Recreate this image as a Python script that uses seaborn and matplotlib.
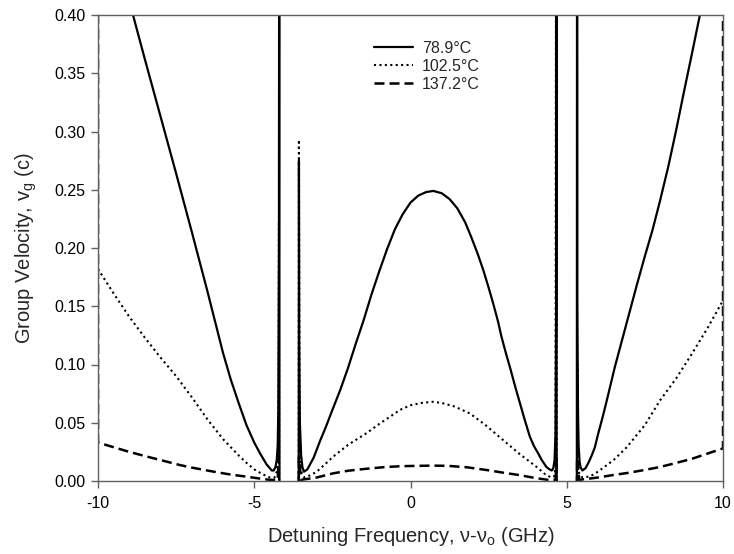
import matplotlib
matplotlib.use("Agg")
import matplotlib.pyplot as plt
import seaborn as sns
from matplotlib.ticker import FixedLocator, StrMethodFormatter

# ---- data ----
x_789 = [-10, -9.5, -9.0, -8.5, -8.0, -7.5, -7.0, -6.5, -6.0, -5.75, -5.5, -5.25, -5.0, -4.8,
         -4.6, -4.5, -4.44, -4.38, -4.32, -4.28, -4.25, -4.23, -4.21, -4.20, -4.19, -4.15, -3.9,
         -3.62, -3.58, -3.57, -3.56, -3.54, -3.50, -3.46, -3.41, -3.3, -3.1, -2.9, -2.7, -2.5,
         -2.25, -2.0, -1.75, -1.5, -1.25, -1.0, -0.75, -0.5, -0.25, 0.0, 0.25, 0.5, 0.73, 1.0,
         1.25, 1.5, 1.75, 1.95, 2.15, 2.33, 2.5, 2.65, 2.8, 2.91, 3.05, 3.21, 3.35, 3.5, 3.65,
         3.82, 3.95, 4.08, 4.2, 4.35, 4.45, 4.52, 4.57, 4.61, 4.64, 4.66, 4.67, 4.68, 4.72, 5.0,
         5.30, 5.32, 5.33, 5.34, 5.36, 5.38, 5.41, 5.44, 5.5, 5.6, 5.7, 5.8, 5.9, 6.0, 6.15,
         6.28, 6.54, 6.8, 7.0, 7.25, 7.5, 7.75, 7.98, 8.25, 8.5, 8.75, 9.0, 9.26, 9.5, 10]
y_789 = [0.52, 0.46, 0.412, 0.362, 0.313, 0.264, 0.214, 0.163, 0.110, 0.087, 0.067, 0.048, 0.033, 0.023,
         0.014, 0.011, 0.009, 0.009, 0.012, 0.018, 0.030, 0.060, 0.200, 0.60, -0.30, -0.05, -0.03,
         -0.05, -0.10, 0.275, 0.120, 0.050, 0.022, 0.012, 0.008, 0.010, 0.020, 0.034, 0.047, 0.061,
         0.078, 0.097, 0.118, 0.138, 0.160, 0.180, 0.199, 0.216, 0.229, 0.239, 0.245, 0.248, 0.249, 0.247,
         0.242, 0.234, 0.222, 0.209, 0.195, 0.181, 0.166, 0.152, 0.137, 0.124, 0.110, 0.095, 0.081, 0.067, 0.053,
         0.038, 0.030, 0.024, 0.018, 0.012, 0.010, 0.009, 0.011, 0.018, 0.040, 0.150, 0.60, -0.30, -0.05, -0.03,
         -0.05, -0.30, 0.60, 0.150, 0.060, 0.030, 0.017, 0.012, 0.009, 0.011, 0.016, 0.022, 0.029, 0.040, 0.055,
         0.069, 0.098, 0.124, 0.144, 0.169, 0.193, 0.216, 0.240, 0.270, 0.301, 0.334, 0.366, 0.40, 0.43, 0.49]

x_1025 = [-10, -9.5, -9.0, -8.5, -8.0, -7.5, -7.0, -6.5, -6.0, -5.5, -5.24, -5.0, -4.75, -4.5,
          -4.35, -4.28, -4.24, -4.22, -4.21, -4.20, -3.9, -3.58, -3.57, -3.55, -3.5, -3.4, -3.2,
          -3.0, -2.75, -2.47, -2.0, -1.41, -1.0, -0.5, -0.34, 0.0, 0.35, 0.7, 1.0, 1.4, 1.9, 2.4,
          2.97, 3.5, 4.04, 4.3, 4.5, 4.6, 4.64, 4.66, 4.68, 5.0, 5.32, 5.34, 5.36, 5.4, 5.5, 5.75,
          6.0, 6.5, 6.92, 7.5, 7.98, 8.5, 9.0, 9.5, 10]
y_1025 = [0.182, 0.161, 0.141, 0.123, 0.106, 0.090, 0.072, 0.053, 0.036, 0.022, 0.0154, 0.010, 0.006, 0.003,
          0.003, 0.008, 0.020, 0.080, 0.223, -0.10, -0.05, -0.10, 0.293, 0.040, 0.008, 0.003, 0.005,
          0.008, 0.014, 0.021, 0.031, 0.041, 0.049, 0.058, 0.061, 0.065, 0.067, 0.068, 0.067, 0.064, 0.058, 0.048,
          0.035, 0.023, 0.012, 0.006, 0.003, 0.004, 0.012, 0.60, -0.10, -0.05, -0.10, 0.10, 0.015, 0.006, 0.003, 0.004,
          0.008, 0.018, 0.029, 0.048, 0.069, 0.088, 0.109, 0.131, 0.155]

x_1372 = [-10, -10, -9.5, -9.0, -8.44, -8.0, -7.38, -7.0, -6.3, -5.75, -5.24, -4.8, -4.5, -4.25,
          -4.22, -4.20, -3.9, -3.58, -3.57, -3.5, -3.0, -2.47, -2.0, -1.41, -0.8, -0.3, 0.2, 0.7,
          1.2, 1.8, 2.44, 3.0, 3.5, 4.0, 4.4, 4.64, 4.67, 4.69, 5.0, 5.32, 5.33, 5.4, 6.0, 6.5,
          6.92, 7.5, 7.98, 8.5, 9.0, 9.5, 10, 10]
y_1372 = [0.50, 0.033, 0.029, 0.025, 0.021, 0.018, 0.0137, 0.0115, 0.008, 0.0055, 0.0037, 0.002, 0.001, 0.001,
          0.020, -0.05, -0.03, -0.05, 0.020, 0.001, 0.003, 0.0066, 0.0088, 0.0105, 0.012, 0.0127, 0.013, 0.0132,
          0.013, 0.0118, 0.0094, 0.007, 0.005, 0.0025, 0.001, 0.001, 0.020, -0.05, -0.03, -0.05, 0.020, 0.001,
          0.003, 0.0052, 0.0068, 0.0095, 0.012, 0.0155, 0.019, 0.0235, 0.028, 0.50]

series_labels = ["78.9°C", "102.5°C", "137.2°C"]
x_ticks = [-10, -5, 0, 5, 10]
y_ticks = [0.00, 0.05, 0.10, 0.15, 0.20, 0.25, 0.30, 0.35, 0.40]

# ---- style ----
sns.set_style("ticks")
plt.rcParams["font.family"] = ["Liberation Sans", "DejaVu Sans"]
plt.rcParams["mathtext.fontset"] = "custom"
plt.rcParams["mathtext.rm"] = "Liberation Sans"
plt.rcParams["mathtext.it"] = "Liberation Sans:italic"
plt.rcParams["axes.unicode_minus"] = False

fig = plt.figure(figsize=(7.34, 5.54), dpi=100)
ax = fig.add_axes([98/734, 1 - 481/554, (723-98)/734, (481-15)/554])

sns.lineplot(x=x_789, y=y_789, sort=False, estimator=None, color="black",
             linewidth=1.6, linestyle="-", label=series_labels[0], ax=ax)
sns.lineplot(x=x_1025, y=y_1025, sort=False, estimator=None, color="black",
             linewidth=1.5, linestyle=(0, (1, 1.6)), label=series_labels[1], ax=ax)
sns.lineplot(x=x_1372, y=y_1372, sort=False, estimator=None, color="black",
             linewidth=1.8, linestyle=(0, (4, 2)), label=series_labels[2], ax=ax)

ax.set_xlim(-10, 10)
ax.set_ylim(0, 0.40)
ax.xaxis.set_major_locator(FixedLocator(x_ticks))
ax.yaxis.set_major_locator(FixedLocator(y_ticks))
ax.yaxis.set_major_formatter(StrMethodFormatter("{x:.2f}"))
ax.xaxis.set_major_formatter(StrMethodFormatter("{x:.0f}"))

for s in ax.spines.values():
    s.set_visible(True)
    s.set_color("#606060")
    s.set_linewidth(1.0)
ax.tick_params(axis="both", direction="out", length=5, width=1.0, color="#606060",
               labelsize=11.5, labelcolor="black", top=False, right=False)
ax.tick_params(axis="x", pad=6)
ax.tick_params(axis="y", pad=4)

ax.set_xlabel(r"Detuning Frequency, ν-ν$_\mathrm{o}$ (GHz)", fontsize=14.5, labelpad=10)
ax.set_ylabel(r"Group Velocity, v$_\mathrm{g}$ (c)", fontsize=14.5, labelpad=11)

leg = ax.legend(loc="upper left", bbox_to_anchor=(0.419, 0.976), frameon=False,
                fontsize=11.5, handlelength=2.4, handletextpad=0.6, labelspacing=0.2)

fig.savefig("out.png", dpi=100)
